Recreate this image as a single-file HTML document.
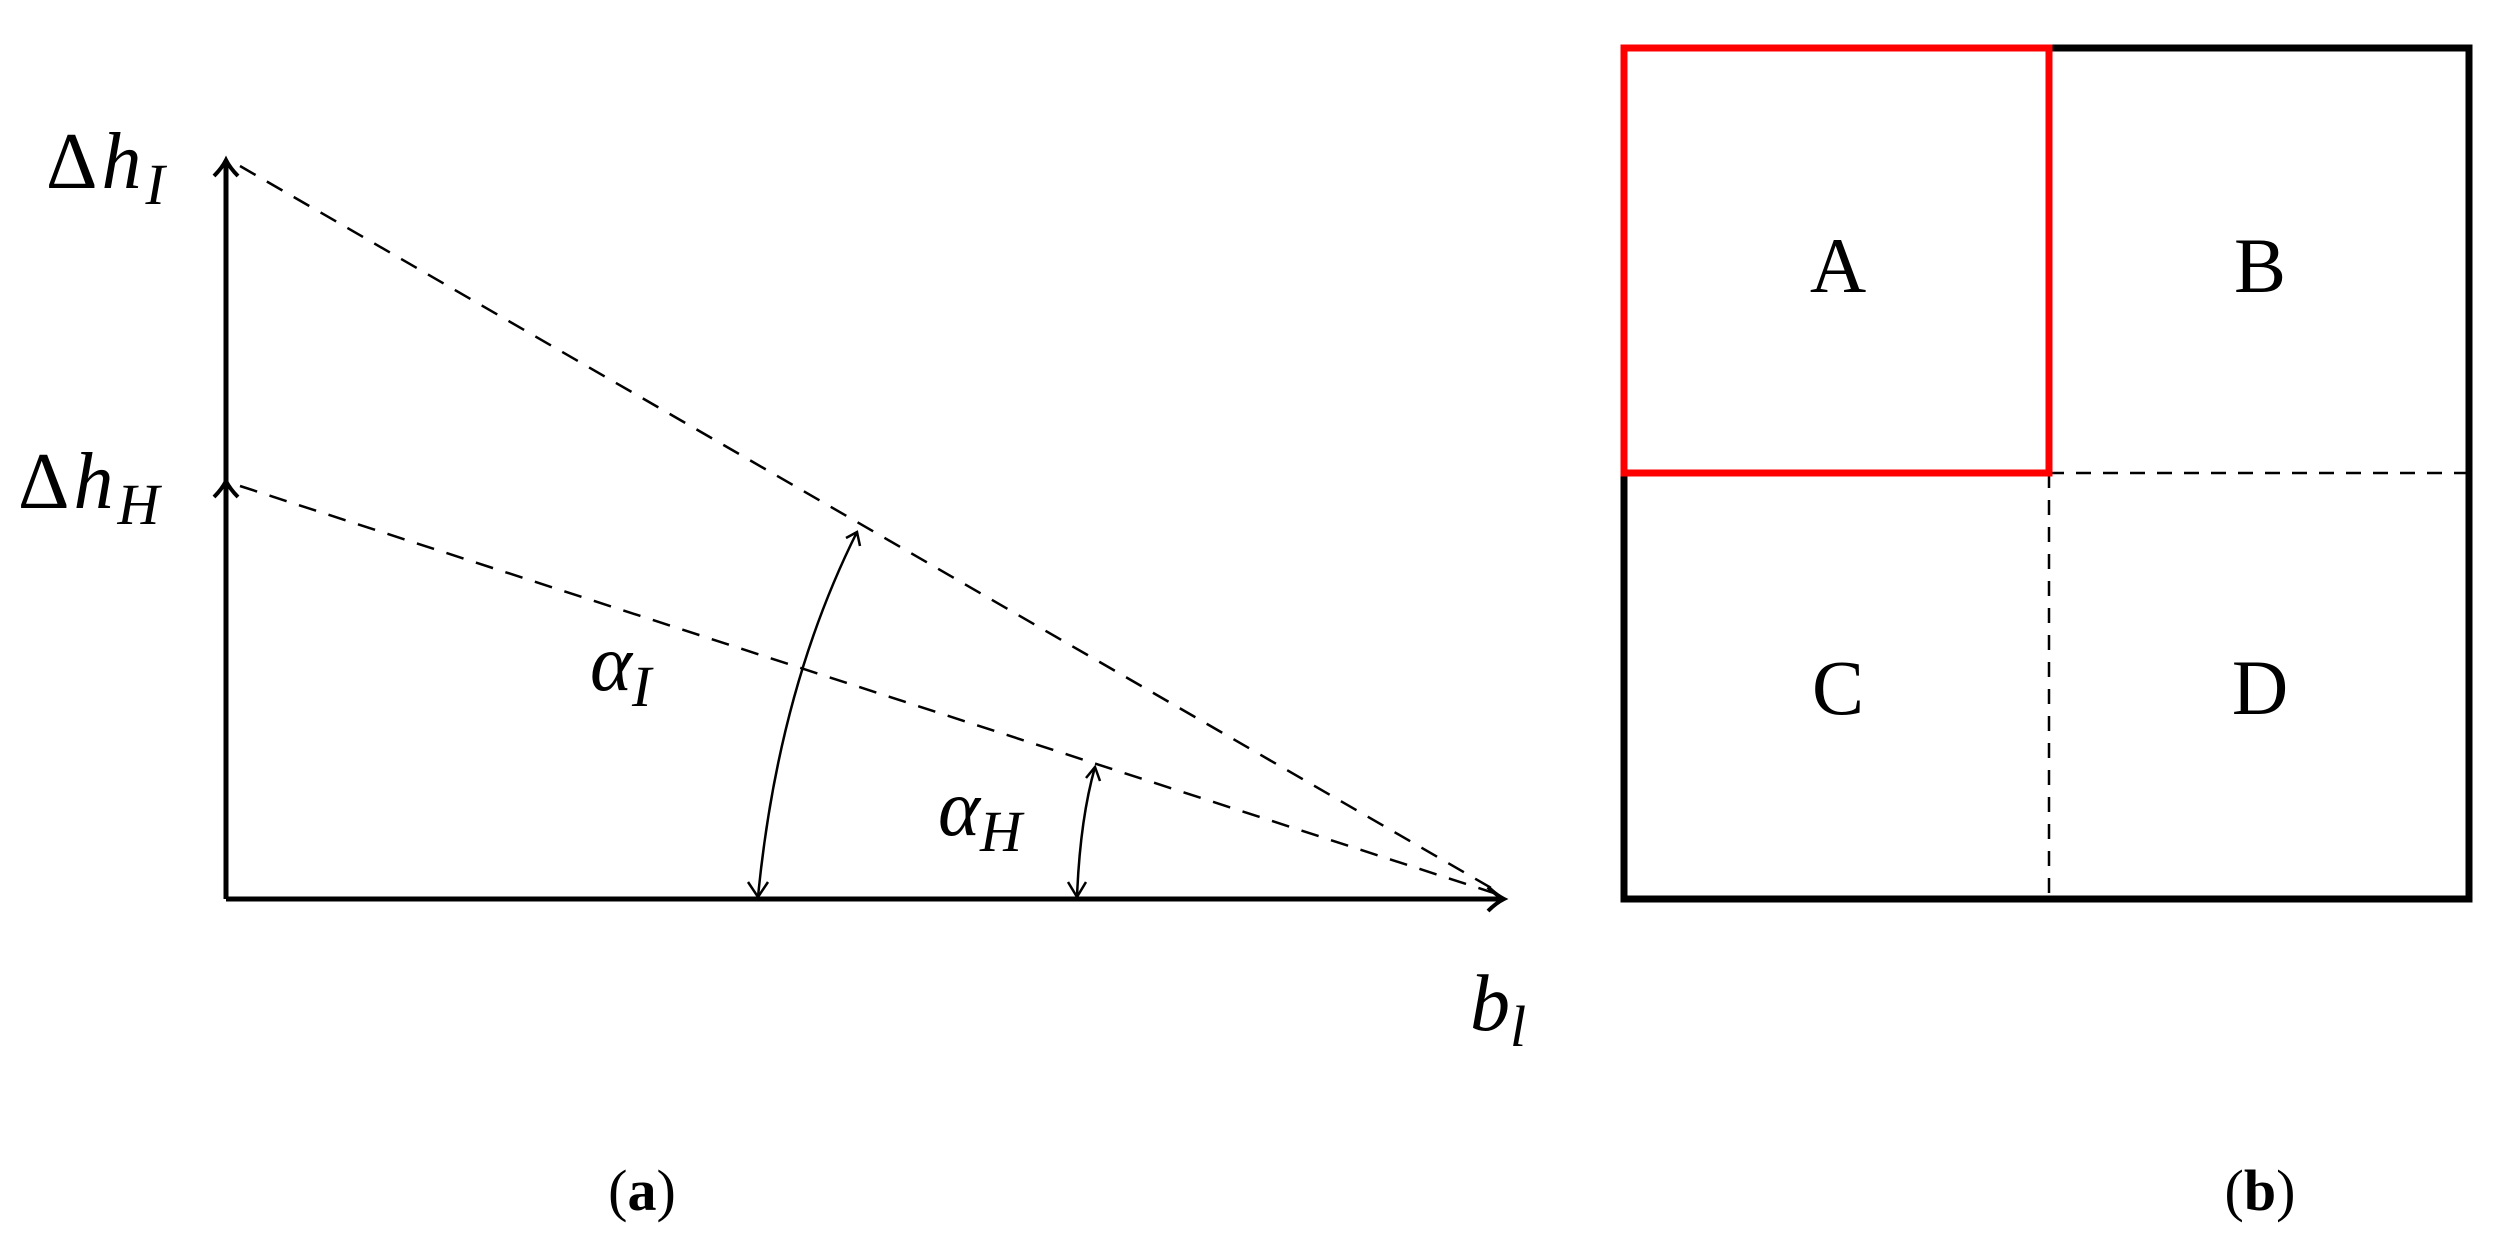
<!DOCTYPE html>
<html><head><style>html,body{margin:0;padding:0;background:#fff;}svg{display:block}</style></head>
<body>
<svg width="2513" height="1251" viewBox="0 0 2513 1251" xmlns="http://www.w3.org/2000/svg" font-family="Liberation Serif, serif">
<g stroke="#000" fill="none">
<line x1="226" y1="899" x2="226" y2="162" stroke-width="5"/>
<line x1="226" y1="899" x2="1502" y2="899" stroke-width="5"/>
<path d="M214 176 Q222 168 226 160 Q230 168 238 176" stroke-width="4"/>
<path d="M214 497 Q222 489 226 481 Q230 489 238 497" stroke-width="4"/>
<path d="M1488 887 Q1496 895 1504 899 Q1496 903 1488 911" stroke-width="4"/>
<line x1="240" y1="166" x2="1500" y2="893" stroke-width="2.5" stroke-dasharray="18,13"/>
<line x1="240" y1="486" x2="1500" y2="895" stroke-width="2.5" stroke-dasharray="18,13"/>
<path d="M758 897 Q778 690 857 532" stroke-width="2.5"/>
<path d="M748 882 L758 897 L768 882 M846 538 L857 532 L860 546" stroke-width="2.5"/>
<path d="M1077 897 Q1080 820 1095 767" stroke-width="2.5"/>
<path d="M1068 882 L1077 897 L1086 882 M1086 778 L1095 767 L1100 781" stroke-width="2.5"/>
<rect x="1624" y="48" width="845" height="851" stroke-width="7"/>
<line x1="2049" y1="473" x2="2049" y2="899" stroke-width="2.5" stroke-dasharray="15,12"/>
<line x1="2049" y1="473" x2="2466" y2="473" stroke-width="2.5" stroke-dasharray="15,12"/>
<rect x="1624" y="48" width="425" height="425" stroke="#f00" stroke-width="7"/>
</g>
<g fill="#000" font-size="80">
<text x="46" y="188" letter-spacing="4">Δ<tspan font-style="italic">h</tspan><tspan font-style="italic" font-size="58" dy="16">I</tspan></text>
<text x="18" y="508" letter-spacing="4">Δ<tspan font-style="italic">h</tspan><tspan font-style="italic" font-size="58" dy="16">H</tspan></text>
<text x="590" y="690" font-style="italic">α<tspan font-size="58" dy="16">I</tspan></text>
<text x="938" y="835" font-style="italic">α<tspan font-size="58" dy="16">H</tspan></text>
<text x="1470" y="1030" font-style="italic">b<tspan font-size="58" dy="16">l</tspan></text>
<text x="642" y="1210" text-anchor="middle" font-size="58">(<tspan font-weight="bold">a</tspan>)</text>
<text x="2260" y="1210" text-anchor="middle" font-size="58">(<tspan font-weight="bold">b</tspan>)</text>
<g font-size="78" text-anchor="middle">
<text x="1838" y="292">A</text>
<text x="2260" y="292">B</text>
<text x="1838" y="714">C</text>
<text x="2260" y="714">D</text>
</g>
</g>
</svg>
</body></html>
